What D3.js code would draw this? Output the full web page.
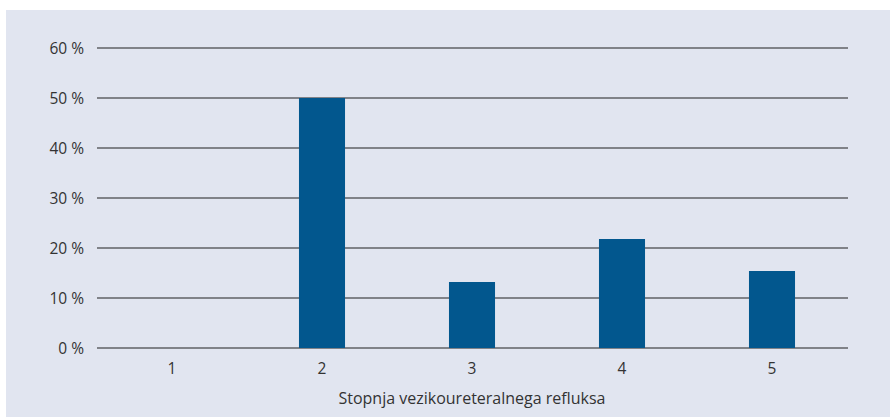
<!DOCTYPE html>
<html><head><meta charset="utf-8">
<script src="https://cdn.jsdelivr.net/npm/d3@7"></script>
<style>body{margin:0;background:#fff;}svg{display:block;}</style>
</head><body>
<script>
const categories = ["1","2","3","4","5"];
const values = [0, 50, 13.2, 21.8, 15.4];
const yTicks = [0,10,20,30,40,50,60];
const xTitle = "Stopnja vezikoureteralnega refluksa";

const W=890,H=417;
const svg=d3.select("body").append("svg").attr("width",W).attr("height",H);
svg.append("rect").attr("x",6).attr("y",10).attr("width",W-6).attr("height",H-10).attr("fill","#e1e5f0");
const x=d3.scaleBand().domain(categories).range([97,847]).paddingInner(0.693).paddingOuter(0.3465);
const y=d3.scaleLinear().domain([0,60]).range([348,48]);
const font="'Open Sans',sans-serif";
// grid
svg.append("g").selectAll("line").data(yTicks).join("line")
 .attr("x1",97).attr("x2",848).attr("y1",d=>y(d)).attr("y2",d=>y(d))
 .attr("stroke","#5f6066").attr("stroke-width",1.4);
// y labels
svg.append("g").selectAll("text").data(yTicks).join("text")
 .attr("x",84).attr("y",d=>y(d)+6).attr("text-anchor","end")
 .attr("font-family",font).attr("font-size",15.5).attr("fill","#333")
 .text(d=>d+" %");
// bars
svg.append("g").selectAll("rect").data(values).join("rect")
 .attr("x",(d,i)=>x(categories[i])).attr("width",x.bandwidth())
 .attr("y",d=>y(d)).attr("height",d=>y(0)-y(d)).attr("fill","#02578e");
// x labels
svg.append("g").selectAll("text").data(categories).join("text")
 .attr("x",d=>x(d)+x.bandwidth()/2).attr("y",374).attr("text-anchor","middle")
 .attr("font-family",font).attr("font-size",15.5).attr("fill","#333").text(d=>d);
svg.append("text").attr("x",472).attr("y",404).attr("text-anchor","middle")
 .attr("font-family",font).attr("font-size",16).attr("fill","#333").text(xTitle);
</script>
</body></html>
